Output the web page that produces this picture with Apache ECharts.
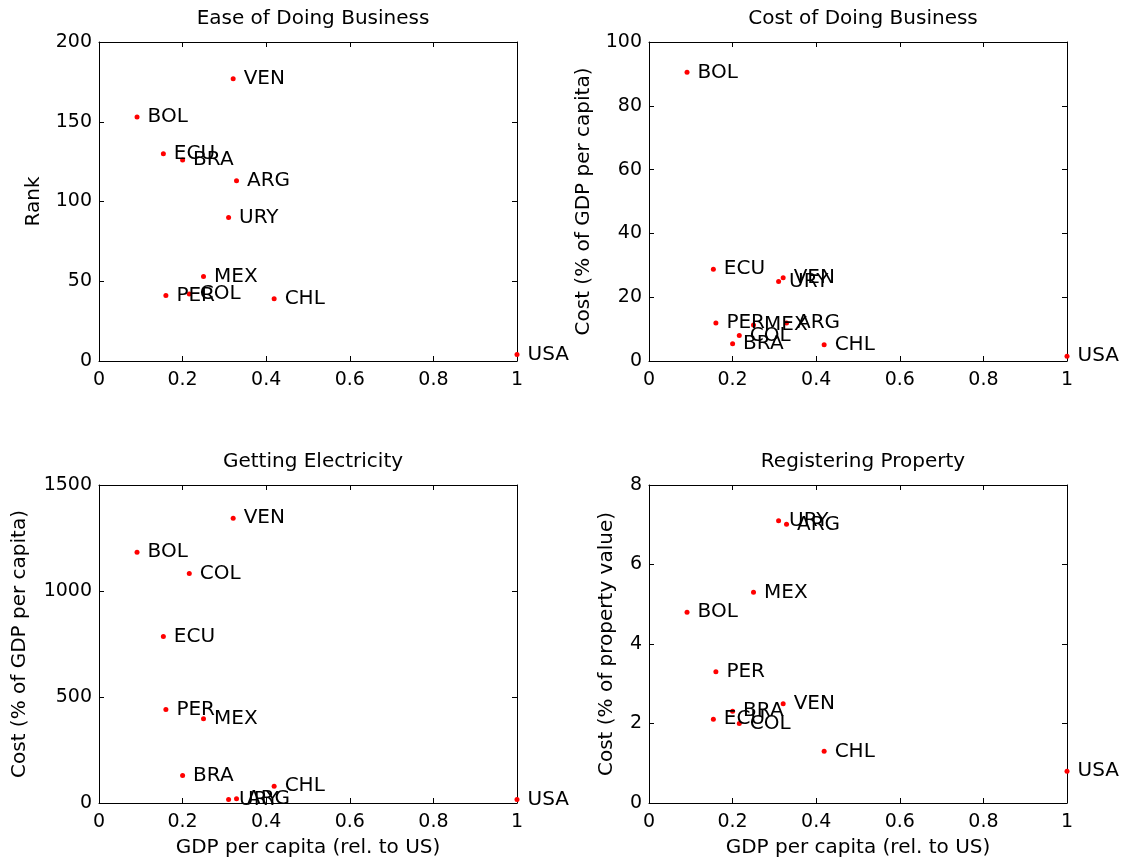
<!DOCTYPE html>
<html>
<head>
<meta charset="utf-8">
<script src="https://cdn.jsdelivr.net/npm/echarts@6/dist/echarts.min.js"></script>
<style>html,body{margin:0;padding:0;background:#fff;}#c{width:1127px;height:867px;}</style>
</head>
<body>
<div id="c"></div>
<script>
const countries = ['BOL','ECU','BRA','PER','COL','MEX','URY','VEN','ARG','CHL','USA'];
const gdpRel    = [0.091,0.154,0.200,0.160,0.216,0.250,0.310,0.321,0.329,0.419,1.0];
const easeRank  = [153,130,126,41,42,53,90,177,113,39,4];
const costBiz   = [90.5,28.8,5.4,11.9,8.0,11.3,24.9,26.1,11.9,5.1,1.5];
const elecCost  = [1183,785,130,441,1082,397,17,1343,20,79,17];
const propCost  = [4.8,2.11,2.31,3.3,2.0,5.3,7.1,2.5,7.01,1.3,0.8];

const panelTitles = ['Ease of Doing Business','Cost of Doing Business','Getting Electricity','Registering Property'];
const yNames = ['Rank','Cost (% of GDP per capita)','Cost (% of GDP per capita)','Cost (% of property value)'];
const xName = 'GDP per capita (rel. to US)';
const yMax = [200,100,1500,8];
const yStep = [50,20,500,2];
const values = [easeRank,costBiz,elecCost,propCost];

const FONT = 'DejaVu Sans, Liberation Sans, sans-serif';
const FS = 20;
const grids = [
  {left:99, top:42, width:418, height:319},
  {left:649, top:42, width:418, height:319},
  {left:99, top:485, width:418, height:318},
  {left:649, top:485, width:418, height:318}
];
const yNameGaps = [55,55,69,32];

const xAxes = [], yAxes = [], series = [], titles = [];
grids.forEach((g,i)=>{
  const lineStyle = {color:'#000', width:1};
  const tick = {show:true, inside:true, length:5, lineStyle:{color:'#000', width:1}};
  xAxes.push({gridIndex:i, type:'value', min:0, max:1, interval:0.2, position:'bottom',
    axisLine:{show:true, onZero:false, lineStyle}, axisTick:tick, splitLine:{show:false},
    axisLabel:{color:'#000', fontSize:19, fontFamily:FONT, margin:10, formatter:v=>String(v)},
    name: i>=2 ? xName : '', nameLocation:'middle', nameGap:35,
    nameTextStyle:{color:'#000', fontSize:FS, fontFamily:FONT}});
  xAxes.push({gridIndex:i, type:'value', min:0, max:1, interval:0.2, position:'top',
    axisLine:{show:true, onZero:false, lineStyle}, axisTick:tick, splitLine:{show:false},
    axisLabel:{show:false}});
  yAxes.push({gridIndex:i, type:'value', min:0, max:yMax[i], interval:yStep[i], position:'left',
    axisLine:{show:true, onZero:false, lineStyle}, axisTick:tick, splitLine:{show:false},
    axisLabel:{color:'#000', fontSize:19, fontFamily:FONT, margin:7, formatter:v=>String(v)},
    name:yNames[i], nameLocation:'middle', nameRotate:90, nameGap:yNameGaps[i],
    nameTextStyle:{color:'#000', fontSize:FS, fontFamily:FONT}});
  yAxes.push({gridIndex:i, type:'value', min:0, max:yMax[i], interval:yStep[i], position:'right',
    axisLine:{show:true, onZero:false, lineStyle}, axisTick:tick, splitLine:{show:false},
    axisLabel:{show:false}});
  const data = countries.map((c,k)=>[gdpRel[k], values[i][k], c]);
  series.push({type:'scatter', xAxisIndex:2*i, yAxisIndex:2*i, data,
    symbol:'circle', symbolSize:5, itemStyle:{color:'#ff0000', opacity:1}, silent:true,
    label:{show:true, position:'right', distance:8, formatter:p=>p.data[2],
      color:'#000', fontSize:FS, fontFamily:FONT},
    labelLayout:{hideOverlap:false}});
  titles.push({text:panelTitles[i], left:g.left+g.width/2, top:4, textAlign:'center',
    textStyle:{color:'#000', fontSize:FS, fontWeight:'normal', fontFamily:FONT}});
});
titles[2].top = 447; titles[3].top = 447;

const chart = echarts.init(document.getElementById('c'));
chart.setOption({animation:false, backgroundColor:'#fff', title:titles, grid:grids,
  xAxis:xAxes, yAxis:yAxes, series});
</script>
</body>
</html>
